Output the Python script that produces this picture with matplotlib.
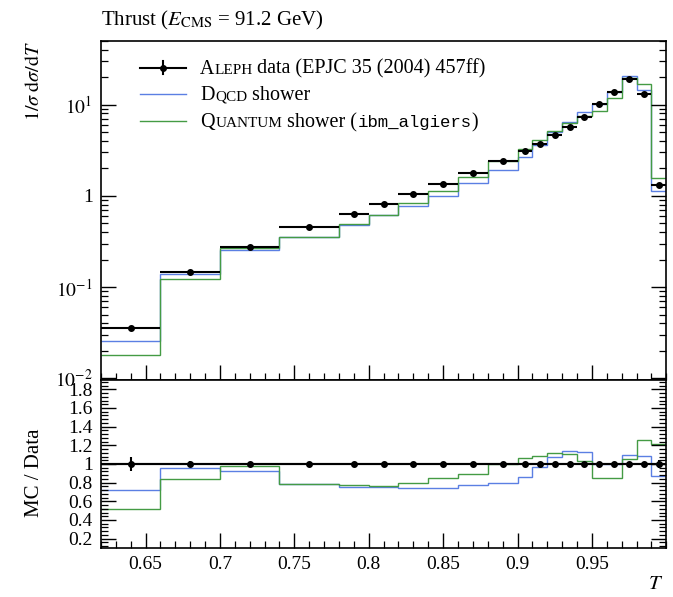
import numpy as np
import matplotlib
matplotlib.use("Agg")
import matplotlib.pyplot as plt
from matplotlib.ticker import FixedLocator, AutoMinorLocator, MultipleLocator, FuncFormatter, LogLocator
from matplotlib.offsetbox import AnchoredOffsetbox, HPacker, VPacker, TextArea, DrawingArea
from matplotlib.lines import Line2D


# =========================
# 1. Data
# =========================

bin_edges = [0.62, 0.66, 0.70, 0.74, 0.78, 0.80, 0.82, 0.84, 0.86, 0.88, 0.90,
             0.91, 0.92, 0.93, 0.94, 0.95, 0.96, 0.97, 0.98, 0.99, 1.00]

aleph_values = [0.0354, 0.145, 0.277, 0.451, 0.631, 0.811, 1.04, 1.34, 1.80, 2.41,
                3.11, 3.74, 4.61, 5.69, 7.31, 10.1, 13.7, 18.8, 13.2, 1.31]
aleph_errors = [0.0025, 0.004, 0.006, 0.008, 0.010, 0.012, 0.015, 0.018, 0.020, 0.025,
                0.030, 0.035, 0.040, 0.050, 0.060, 0.080, 0.10, 0.12, 0.12, 0.05]

dqcd_values = [0.0255, 0.138, 0.255, 0.356, 0.473, 0.612, 0.775, 0.998, 1.386, 1.928,
               2.675, 3.628, 4.979, 6.487, 8.260, 10.1, 13.7, 20.68, 14.26, 1.14]

quantum_values = [0.0182, 0.122, 0.270, 0.354, 0.489, 0.624, 0.832, 1.139, 1.602, 2.41,
                  3.297, 4.077, 5.163, 6.316, 7.529, 8.585, 11.645, 19.74, 16.63, 1.585]

x_tick_values = [0.65, 0.70, 0.75, 0.80, 0.85, 0.90, 0.95]
x_tick_labels = ["0.65", "0.7", "0.75", "0.8", "0.85", "0.9", "0.95"]
ratio_tick_values = [0.2, 0.4, 0.6, 0.8, 1.0, 1.2, 1.4, 1.6, 1.8]


# =========================
# 2. Style
# =========================

plt.rcParams["font.family"] = ["Liberation Serif", "DejaVu Serif"]
plt.rcParams["mathtext.fontset"] = "stix"
plt.rcParams["font.size"] = 14

DATA_COLOR = "black"
DQCD_COLOR = "#5b7fe3"
QUANTUM_COLOR = "#449b44"

edges = np.array(bin_edges)
centers = 0.5 * (edges[:-1] + edges[1:])
half_widths = 0.5 * (edges[1:] - edges[:-1])
data = np.array(aleph_values)
data_err = np.array(aleph_errors)


# =========================
# 3. Figure and axes
# =========================

fig = plt.figure(figsize=(6.73, 5.97), dpi=100)
ax_main = fig.add_axes([0.150, 0.3635, 0.840, 0.5683])
ax_ratio = fig.add_axes([0.150, 0.0821, 0.840, 0.2814], sharex=ax_main)


# =========================
# 4. Main panel
# =========================

ax_main.stairs(dqcd_values, edges, color=DQCD_COLOR, lw=1.0, baseline=None)
ax_main.stairs(quantum_values, edges, color=QUANTUM_COLOR, lw=1.0, baseline=None)
ax_main.errorbar(centers, data, xerr=half_widths, yerr=data_err, fmt="o", color=DATA_COLOR,
                 ms=4, elinewidth=1.5, capsize=0, zorder=5)

ax_main.set_yscale("log")
ax_main.set_xlim(0.62, 1.0)
ax_main.set_ylim(0.0096, 50)


def log_label(value, pos):
    exponent = int(round(np.log10(value)))
    if exponent == 0:
        return "1"
    return r"$10^{%d}$" % exponent


ax_main.yaxis.set_major_locator(LogLocator(base=10, numticks=10))
ax_main.yaxis.set_minor_locator(LogLocator(base=10, subs=np.arange(2, 10), numticks=20))
ax_main.yaxis.set_major_formatter(FuncFormatter(log_label))
ax_main.tick_params(axis="x", labelbottom=False)

ax_main.set_ylabel(r"$1/\sigma\;\mathrm{d}\sigma/\mathrm{d}T$", loc="top", fontsize=14.5)
ax_main.yaxis.set_label_coords(-0.100, 1.0)

fig.text(0.150, 1 - 25 / 597, r"Thrust ($E_{\mathrm{CMS}}$ = 91.2 GeV)", ha="left",
         va="baseline", fontsize=15)


# =========================
# 5. Ratio panel
# =========================

ratio_dqcd = np.array(dqcd_values) / data
ratio_quantum = np.array(quantum_values) / data

ax_ratio.axhline(1.0, color="black", lw=1.5, zorder=4)
ax_ratio.stairs(ratio_dqcd, edges, color=DQCD_COLOR, lw=1.0, baseline=None)
ax_ratio.stairs(ratio_quantum, edges, color=QUANTUM_COLOR, lw=1.0, baseline=None)
ax_ratio.errorbar(centers, np.ones_like(data), xerr=half_widths, yerr=data_err / data,
                  fmt="o", color=DATA_COLOR, ms=4, elinewidth=1.5, capsize=0, zorder=5)

ax_ratio.set_ylim(0.1, 1.9)
ax_ratio.yaxis.set_major_locator(FixedLocator(ratio_tick_values))
ax_ratio.yaxis.set_major_formatter(FuncFormatter(lambda v, p: "%g" % round(v, 2)))
ax_ratio.yaxis.set_minor_locator(AutoMinorLocator(5))

ax_ratio.xaxis.set_major_locator(FixedLocator(x_tick_values))
ax_ratio.set_xticklabels(x_tick_labels)
ax_ratio.xaxis.set_minor_locator(MultipleLocator(0.01))

ax_ratio.set_ylabel("MC / Data", fontsize=15)
ax_ratio.yaxis.set_label_coords(-0.100, 0.45)
ax_ratio.set_xlabel(r"$T$", loc="right", fontsize=15)
ax_ratio.xaxis.set_label_coords(0.995, -0.16)


# =========================
# 6. Ticks and frames
# =========================

for ax in (ax_main, ax_ratio):
    ax.tick_params(which="both", direction="in", top=False, right=True, color="black")
    ax.tick_params(which="major", length=11, width=1.0, pad=6)
    ax.tick_params(which="minor", length=5, width=0.9)
    for spine in ax.spines.values():
        spine.set_linewidth(1.2)


# =========================
# 7. Legend (small caps by mixed font sizes)
# =========================

def handle_box(color, with_marker=False):
    box = DrawingArea(33, 10, 0, 0)
    box.add_artist(Line2D([0, 33], [4.5, 4.5], color=color, lw=1.5 if with_marker else 1.0))
    if with_marker:
        box.add_artist(Line2D([16.5, 16.5], [0, 9], color=color, lw=1.5))
        box.add_artist(Line2D([16.5], [4.5], color=color, marker="o", ms=4))
    return box


def text_part(text, size=14.5, family=None):
    props = {"fontsize": size, "color": "black"}
    if family is not None:
        props["family"] = family
    return TextArea(text, textprops=props)


rows = [
    [handle_box(DATA_COLOR, True), text_part("   A"), text_part("LEPH", 11),
     text_part(" data (EPJC 35 (2004) 457ff)")],
    [handle_box(DQCD_COLOR), text_part("   D"), text_part("QCD", 11), text_part(" shower")],
    [handle_box(QUANTUM_COLOR), text_part("   Q"), text_part("UANTUM", 11),
     text_part(" shower ("), text_part("ibm_algiers", 12.5, ["Liberation Mono", "DejaVu Sans Mono"]),
     text_part(")")],
]

packed_rows = [HPacker(children=r, align="baseline", pad=0, sep=0) for r in rows]
legend_box = VPacker(children=packed_rows, align="left", pad=0, sep=5.5)
anchored = AnchoredOffsetbox(loc="upper left", child=legend_box, pad=0, borderpad=0,
                             frameon=False, bbox_to_anchor=(0.069, 0.945),
                             bbox_transform=ax_main.transAxes)
ax_main.add_artist(anchored)


# =========================
# 8. Save
# =========================

fig.savefig("out.png", dpi=100)
print("Saved figure: out.png")
